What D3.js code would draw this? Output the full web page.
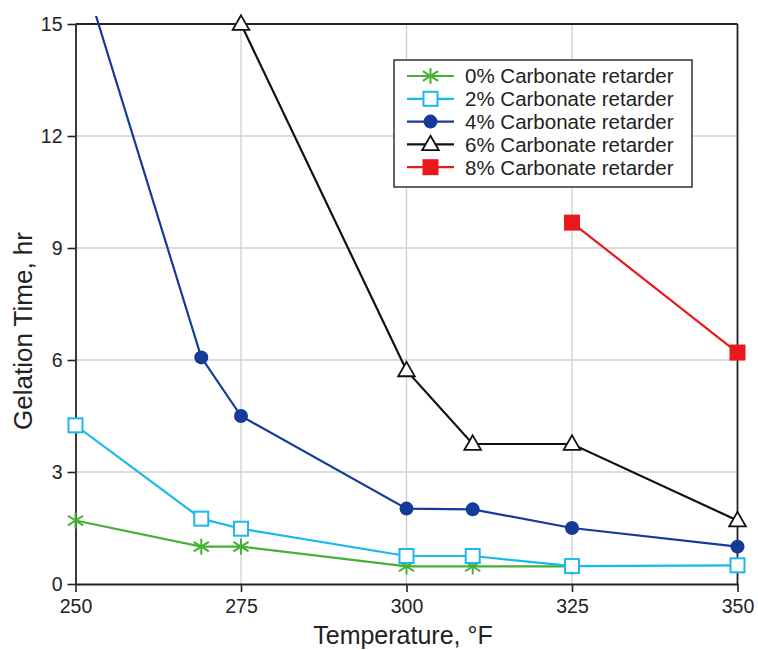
<head>
    <script src="https://d3js.org/d3.v7.min.js"></script>
    <style>
        body { margin: 0; background: #fff; }
        text { font-family: "Liberation Sans", Arial, sans-serif; fill: #222; }
    </style>
</head>

<body>
    <div id="chart"></div>
</body>

<script>
    // values
    let temps0 = [250, 269, 275, 300, 310, 325];
    let gel0 = [1.7, 1.0, 1.0, 0.47, 0.47, 0.47];
    let temps2 = [250, 269, 275, 300, 310, 325, 350];
    let gel2 = [4.25, 1.75, 1.48, 0.75, 0.75, 0.48, 0.5];
    let temps4 = [250, 269, 275, 300, 310, 325, 350];
    let gel4 = [17, 6.07, 4.5, 2.02, 2.0, 1.5, 1.0];
    let temps6 = [275, 300, 310, 325, 350];
    let gel6 = [15, 5.72, 3.75, 3.75, 1.7];
    let temps8 = [325, 350];
    let gel8 = [9.68, 6.2];
    let xTicks = [250, 275, 300, 325, 350];
    let yTicks = [0, 3, 6, 9, 12, 15];
    let seriesNames = ["0% Carbonate retarder", "2% Carbonate retarder", "4% Carbonate retarder",
        "6% Carbonate retarder", "8% Carbonate retarder"];

    let series = [
        { name: seriesNames[0], t: temps0, v: gel0, color: "#45b035", shape: "star" },
        { name: seriesNames[1], t: temps2, v: gel2, color: "#19b9f0", shape: "square" },
        { name: seriesNames[2], t: temps4, v: gel4, color: "#163a98", shape: "circle" },
        { name: seriesNames[3], t: temps6, v: gel6, color: "#111111", shape: "triangle" },
        { name: seriesNames[4], t: temps8, v: gel8, color: "#e8181c", shape: "redsquare" }
    ];

    let W = 758, H = 650;
    let mLeft = 75.5, mRight = 737.5, mTop = 24, mBottom = 584;

    let svg = d3.select("#chart").append("svg").attr("width", W).attr("height", H);

    let x = d3.scaleLinear().domain([250, 350]).range([mLeft, mRight]);
    let y = d3.scaleLinear().domain([0, 15]).range([mBottom, mTop]);

    // grid
    svg.append("g").selectAll("line").data(yTicks.slice(1, -1)).enter().append("line")
        .attr("x1", mLeft).attr("x2", mRight)
        .attr("y1", d => y(d)).attr("y2", d => y(d))
        .attr("stroke", "#cfcfcf").attr("stroke-width", 1.3);
    svg.append("g").selectAll("line").data(xTicks.slice(1, -1)).enter().append("line")
        .attr("y1", mTop).attr("y2", mBottom)
        .attr("x1", d => x(d)).attr("x2", d => x(d))
        .attr("stroke", "#cfcfcf").attr("stroke-width", 1.3);

    // frame top / right
    svg.append("line").attr("x1", mLeft).attr("x2", mRight).attr("y1", mTop).attr("y2", mTop)
        .attr("stroke", "#222").attr("stroke-width", 1.8);
    svg.append("line").attr("x1", mRight).attr("x2", mRight).attr("y1", mTop).attr("y2", mBottom)
        .attr("stroke", "#222").attr("stroke-width", 1.8);

    // axes
    let xAxis = svg.append("g").attr("transform", "translate(0," + mBottom + ")")
        .call(d3.axisBottom(x).tickValues(xTicks).tickSize(8).tickSizeOuter(0).tickPadding(7));
    let yAxis = svg.append("g").attr("transform", "translate(" + mLeft + ",0)")
        .call(d3.axisLeft(y).tickValues(yTicks).tickSize(8).tickSizeOuter(0).tickPadding(5));
    [xAxis, yAxis].forEach(function (a) {
        a.select(".domain").attr("stroke", "#222").attr("stroke-width", 1.8);
        a.selectAll(".tick line").attr("stroke", "#222").attr("stroke-width", 1.6);
        a.selectAll(".tick text").style("font-size", "19.5px").attr("fill", "#222")
            .style("font-family", "Liberation Sans, Arial, sans-serif");
    });

    svg.append("text").attr("x", 403).attr("y", 644)
        .attr("text-anchor", "middle").style("font-size", "25px").text("Temperature, °F");
    svg.append("text").attr("transform", "translate(32,331) rotate(-90)")
        .attr("text-anchor", "middle").style("font-size", "26px").text("Gelation Time, hr");

    // clip so the 4% line runs slightly past the top
    svg.append("clipPath").attr("id", "clip").append("rect")
        .attr("x", mLeft).attr("y", 16).attr("width", mRight - mLeft + 10).attr("height", mBottom - 16);

    let line = d3.line().x(d => x(d[0])).y(d => y(d[1]));

    function drawMarker(g, shape, color, cx, cy) {
        if (shape === "star") {
            let s = 8;
            [[0, -s, 0, s], [-s * 0.95, -s * 0.6, s * 0.95, s * 0.6], [-s * 0.95, s * 0.6, s * 0.95, -s * 0.6]]
                .forEach(function (p) {
                    g.append("line").attr("x1", cx + p[0]).attr("y1", cy + p[1])
                        .attr("x2", cx + p[2]).attr("y2", cy + p[3])
                        .attr("stroke", color).attr("stroke-width", 2);
                });
        } else if (shape === "square") {
            g.append("rect").attr("x", cx - 7).attr("y", cy - 7).attr("width", 14).attr("height", 14)
                .attr("fill", "#fff").attr("stroke", color).attr("stroke-width", 2);
        } else if (shape === "circle") {
            g.append("circle").attr("cx", cx).attr("cy", cy).attr("r", 7).attr("fill", color);
        } else if (shape === "triangle") {
            g.append("path").attr("d", d3.symbol().type(d3.symbolTriangle).size(120)())
                .attr("transform", "translate(" + cx + "," + (cy + 1) + ")")
                .attr("fill", "#fff").attr("stroke", color).attr("stroke-width", 1.8);
        } else {
            g.append("rect").attr("x", cx - 8).attr("y", cy - 8).attr("width", 16).attr("height", 16)
                .attr("fill", color);
        }
    }

    series.forEach(function (s) {
        let pts = s.t.map((t, i) => [t, s.v[i]]);
        svg.append("path").datum(pts).attr("d", line)
            .attr("fill", "none").attr("stroke", s.color).attr("stroke-width", 2.2)
            .attr("clip-path", "url(#clip)");
    });
    series.forEach(function (s) {
        let g = svg.append("g");
        s.t.forEach(function (t, i) {
            if (s.v[i] > 15) return;
            drawMarker(g, s.shape, s.color, x(t), y(s.v[i]));
        });
    });

    // legend
    let lg = svg.append("g");
    lg.append("rect").attr("x", 394).attr("y", 60).attr("width", 298).attr("height", 127)
        .attr("fill", "#fff").attr("stroke", "#333").attr("stroke-width", 1.5);
    series.forEach(function (s, i) {
        let cy = 76 + i * 22.8;
        lg.append("line").attr("x1", 407).attr("x2", 454).attr("y1", cy).attr("y2", cy)
            .attr("stroke", s.color).attr("stroke-width", 2.2);
        drawMarker(lg, s.shape, s.color, 430.5, cy);
        lg.append("text").attr("x", 465).attr("y", cy).attr("dy", "0.36em")
            .style("font-size", "20.5px").text(s.name);
    });
</script>
